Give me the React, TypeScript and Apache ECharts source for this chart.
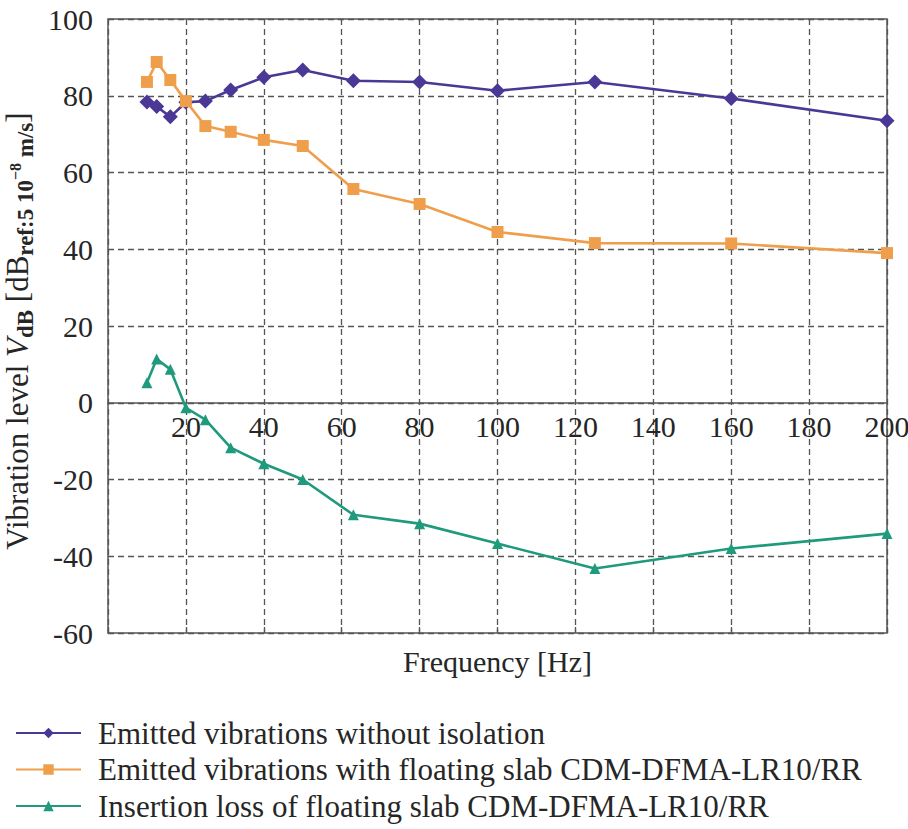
import React, { useEffect, useRef } from "react";
import * as echarts from "echarts";

const freqs = [10, 12.5, 16, 20, 25, 31.5, 40, 50, 63, 80, 100, 125, 160, 200];
const noIsolation = [78.4, 77.2, 74.5, 78.3, 78.6, 81.5, 84.8, 86.7, 83.9, 83.6, 81.3, 83.6, 79.3, 73.5];
const floatingSlab = [83.6, 88.8, 84.1, 78.6, 72.1, 70.6, 68.5, 66.9, 55.7, 51.8, 44.5, 41.6, 41.5, 39.0];
const insertionLoss = [5.2, 11.4, 8.7, -1.3, -4.4, -11.7, -15.9, -20.0, -29.2, -31.5, -36.7, -43.2, -38.0, -34.1];

const seriesNames = [
  "Emitted vibrations without isolation",
  "Emitted vibrations with floating slab CDM-DFMA-LR10/RR",
  "Insertion loss of floating slab CDM-DFMA-LR10/RR",
];
const colors = ["#4b3796", "#ef9f4c", "#1f9a7c"];

const FONT = "'Liberation Serif', 'DejaVu Serif', serif";
const AXIS = "#555555";
const TEXT = "#262626";

const GRID_TOP = 19;
const GRID_BOTTOM = 196;
const Y_MIN = -60;
const Y_MAX = 100;

export default function App() {
  const ref = useRef<HTMLDivElement>(null);
  useEffect(() => {
    if (!ref.current) return;
    const chart = echarts.init(ref.current, null, { renderer: "svg" });
    const pair = (ys: number[]) => freqs.map((f, i) => [f, ys[i]]);
    const gridH = 829 - GRID_TOP - GRID_BOTTOM;
    const zeroFromBottom = (gridH * (0 - Y_MIN)) / (Y_MAX - Y_MIN);
    chart.setOption({
      animation: false,
      backgroundColor: "#ffffff",
      textStyle: { fontFamily: FONT, color: TEXT },
      grid: {
        left: 108,
        right: 21,
        top: GRID_TOP,
        bottom: GRID_BOTTOM,
        containLabel: false,
        outerBoundsMode: "none",
        show: true,
        borderColor: AXIS,
        borderWidth: 1.5,
        backgroundColor: "transparent",
      },
      legend: {
        orient: "vertical",
        left: 15,
        top: 715,
        height: 112,
        padding: 0,
        itemWidth: 65,
        itemHeight: 13,
        itemGap: 0.5,
        textStyle: {
          fontFamily: FONT,
          fontSize: 31,
          lineHeight: 36,
          color: TEXT,
          padding: [0, 0, 0, 12],
        },
        data: seriesNames,
      },
      xAxis: [
        {
          type: "value",
          min: 0,
          max: 200,
          interval: 20,
          position: "bottom",
          offset: -zeroFromBottom,
          axisLine: { onZero: false, lineStyle: { color: AXIS, width: 1.5 } },
          axisTick: { show: false },
          axisLabel: {
            fontFamily: FONT,
            fontSize: 30,
            color: TEXT,
            margin: 9,
            hideOverlap: false,
            formatter: (v: number) => (v === 0 ? "" : String(v)),
          },
          splitLine: { show: true, lineStyle: { type: [6, 4], color: AXIS, width: 1.3 } },
        },
        {
          type: "value",
          min: 0,
          max: 200,
          interval: 20,
          position: "bottom",
          axisLine: { onZero: false, show: false },
          axisTick: { show: true, inside: true, length: 6, lineStyle: { color: AXIS, width: 1.3 } },
          axisLabel: { show: false },
          splitLine: { show: false },
          name: "Frequency [Hz]",
          nameLocation: "middle",
          nameGap: 13,
          nameTextStyle: { fontFamily: FONT, fontSize: 30, color: TEXT, verticalAlign: "top" },
        },
      ],
      yAxis: {
        type: "value",
        min: Y_MIN,
        max: Y_MAX,
        interval: 20,
        axisLine: { show: false, onZero: false },
        axisTick: { show: false },
        axisLabel: { fontFamily: FONT, fontSize: 30, color: TEXT, margin: 15 },
        splitLine: { show: true, lineStyle: { type: [6, 4], color: AXIS, width: 1.3 } },
        name: "{n|Vibration level }{i|V}{s|dB}{n| [dB}{s|ref:5 10}{sup|−8}{s| m/s}{e|]}",
        nameLocation: "middle",
        nameGap: 68,
        nameTextStyle: {
          fontFamily: FONT,
          color: TEXT,
          rich: {
            n: { fontFamily: FONT, fontSize: 31, color: TEXT },
            e: { fontFamily: FONT, fontSize: 31, color: TEXT, padding: [0, 10, 0, 0] },
            i: { fontFamily: FONT, fontSize: 31, fontStyle: "italic", color: TEXT },
            s: { fontFamily: FONT, fontSize: 23, fontWeight: "bold", color: TEXT, padding: [16, 0, 0, 0] },
            sup: { fontFamily: FONT, fontSize: 16, fontWeight: "bold", color: TEXT, padding: [0, 0, 4, 0] },
          },
        },
      },
      series: [
        {
          name: seriesNames[0],
          type: "line",
          data: pair(noIsolation),
          color: colors[0],
          symbol: "diamond",
          symbolSize: 15,
          lineStyle: { width: 2.6, color: colors[0] },
          itemStyle: { color: colors[0] },
          z: 3,
        },
        {
          name: seriesNames[1],
          type: "line",
          data: pair(floatingSlab),
          color: colors[1],
          symbol: "rect",
          symbolSize: 12,
          lineStyle: { width: 2.6, color: colors[1] },
          itemStyle: { color: colors[1] },
          z: 4,
        },
        {
          name: seriesNames[2],
          type: "line",
          data: pair(insertionLoss),
          color: colors[2],
          symbol: "triangle",
          symbolSize: 11,
          lineStyle: { width: 2.6, color: colors[2] },
          itemStyle: { color: colors[2] },
          z: 3,
        },
      ],
    });
    return () => chart.dispose();
  }, []);
  return (
    <div
      ref={ref}
      style={{ position: "fixed", left: 0, top: 0, width: 908, height: 829, background: "#fff" }}
    />
  );
}
